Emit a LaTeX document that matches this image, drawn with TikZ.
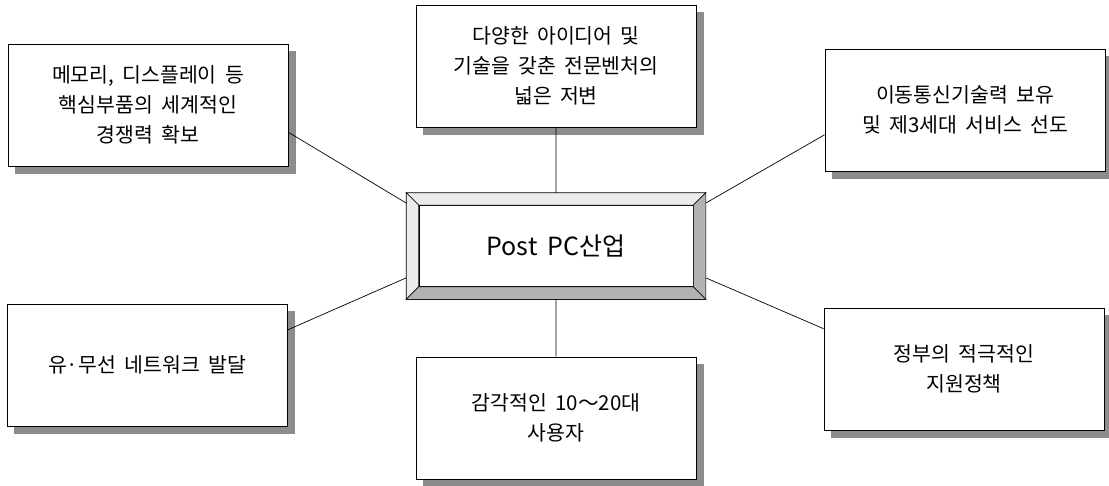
\documentclass[tikz,border=0pt]{standalone}
\usepackage{fontspec}
\setmainfont{Noto Sans CJK KR}[WordSpace=1.8]
\usetikzlibrary{fit}
\tikzset{
  factor/.style={draw,line width=0.8pt,fill=white,minimum width=280pt,minimum height=122pt,
    align=center,font=\fontsize{20.5}{30}\selectfont},
  shadowbox/.style={fill=black!45,draw=black!45,line width=0.5pt,minimum width=280pt,minimum height=122pt},
  core/.style={draw,line width=0.8pt,fill=white,minimum width=274pt,minimum height=81pt,
    font=\fontsize{25}{30}\selectfont},
  lightbevel/.style={draw,line width=0.6pt,fill=gray!15},
  darkbevel/.style={draw,line width=0.6pt,fill=gray!60},
  link/.style={draw,line width=0.7pt}
}

\begin{document}
\begin{tikzpicture}[x=1pt,y=-1pt]
\useasboundingbox (0,0) rectangle (1109,485);
\node[shadowbox] (memoryshadow) at (155,112) {};
\node[shadowbox] (ventureshadow) at (563,73) {};
\node[shadowbox] (mobileshadow) at (972,117) {};
\node[shadowbox] (networkshadow) at (154,372) {};
\node[shadowbox] (usersshadow) at (563,425) {};
\node[shadowbox] (policyshadow) at (971,376) {};
\node[factor] (memory) at (148,105) {메모리, 디스플레이 등\\핵심부품의 세계적인\\경쟁력 확보};
\node[factor] (venture) at (556,66) {다양한 아이디어 및\\기술을 갖춘 전문벤처의\\넓은 저변};
\node[factor] (mobile) at (965,110) {이동통신기술력 보유\\및 제3세대 서비스 선도};
\node[factor] (network) at (147,365) {유·무선 네트워크 발달};
\node[factor] (users) at (556,418) {감각적인 10～20대\\사용자};
\node[factor] (policy) at (964,369) {정부의 적극적인\\지원정책};

\node[core] (pc) at (556,246) {Post PC산업};
\node[fit=(pc),inner sep=12pt,draw,line width=0.8pt] (post) {};
\path[lightbevel] (post.north west) -- (post.north east) -- (pc.north east) -- (pc.north west) -- cycle;
\path[lightbevel] (post.north west) -- (pc.north west) -- (pc.south west) -- (post.south west) -- cycle;
\path[darkbevel] (post.north east) -- (post.south east) -- (pc.south east) -- (pc.north east) -- cycle;
\path[darkbevel] (post.south west) -- (post.south east) -- (pc.south east) -- (pc.south west) -- cycle;

\path[link] (memory.-11) -- (post.164)
  (venture.south) -- (post.north)
  (mobile.-170) -- (post.16)
  (network.14) -- (post.-168)
  (users.north) -- (post.south)
  (policy.164) -- (post.-12);
\end{tikzpicture}
\end{document}
